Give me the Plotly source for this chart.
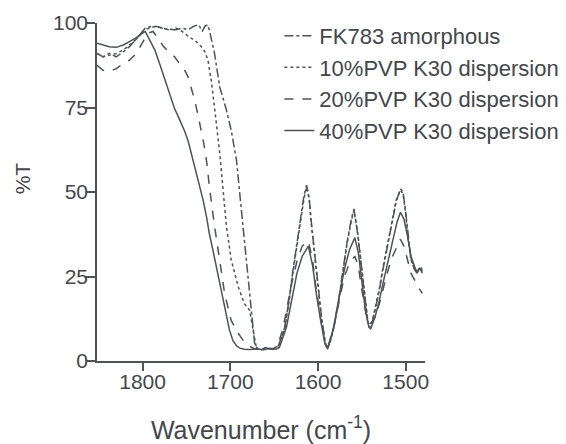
import plotly.graph_objects as go

# ---------------- data ----------------
tail_fk = [1665, 1660, 1655, 1650, 1645, 1638, 1633, 1629, 1624, 1619, 1616, 1613, 1610, 1608, 1604, 1600, 1596, 1592, 1590,
           1587, 1583, 1577, 1572, 1567, 1562, 1559, 1555, 1552, 1549, 1546, 1543, 1541,
           1538, 1535, 1530, 1526, 1521, 1516, 1511, 1506, 1503, 1500, 1497, 1494, 1490, 1487, 1484, 1481]

fk_wn = [1852, 1845, 1838, 1830, 1822, 1815, 1808, 1802, 1797, 1790, 1784, 1778, 1770, 1762, 1755, 1748, 1742,
         1736, 1732, 1729, 1726, 1724, 1721, 1718, 1715, 1712, 1708, 1704.5, 1699, 1693, 1689.4, 1685.6, 1682,
         1678, 1674, 1672, 1669] + tail_fk
fk_t = [91, 90, 91, 90, 91.5, 93, 95, 97, 98.5, 99, 99, 98.5, 98, 98, 98.5, 98, 99,
        99.5, 97.5, 99, 99.5, 98, 94.5, 91, 86, 81, 77.5, 74.3, 68.3, 59.5, 50, 40, 30,
        20, 10, 4.5, 3.8,
        3.2, 4, 3.5, 3.8, 4.5, 10, 18, 26, 35, 44, 49, 52, 48, 42, 32, 22, 13, 6, 4,
        5, 9, 17, 26, 35, 42, 45, 38, 31, 24, 16, 11, 10,
        11.5, 15, 21, 27, 34, 41, 47, 51, 50, 44, 36, 30, 27, 26, 28, 27]

p10_wn = [1852, 1845, 1838, 1830, 1822, 1815, 1808, 1803, 1798, 1792, 1785, 1778, 1770, 1762, 1755, 1750, 1744.5,
          1738, 1733, 1729, 1725.5, 1721.7, 1718, 1715, 1712, 1708, 1704.5, 1699, 1695, 1691, 1684, 1678, 1674,
          1670] + tail_fk
p10_t = [91, 90, 90.5, 91, 92, 93.5, 95, 96.5, 98, 98.5, 99, 98.5, 98, 98.5, 97.5, 96.5, 95.4,
         94.3, 93, 91.5, 89, 83, 75, 68, 61.4, 50, 40, 30, 26, 22, 17, 15, 9.2,
         3.5,
         3.5, 3.8, 3.6, 4, 4.3, 9.5, 17.5, 25.5, 34.5, 43, 48, 51.5, 48, 41.5, 31.5, 21.5, 12.5, 5.5, 3.8,
         4.8, 8.5, 16.5, 25.5, 34.5, 41.5, 44.5, 38.5, 31.5, 24.5, 16.5, 11.5, 10.5,
         12, 15.5, 21.5, 27.5, 34.5, 41.5, 47.5, 50.5, 49.5, 43.5, 35.5, 30, 27.5, 26.5, 27.5, 26.5]

p20_wn = [1852, 1845, 1838, 1830, 1822, 1815, 1807, 1800, 1794, 1788, 1782.5, 1776, 1770, 1763.5, 1758, 1752, 1748,
          1744.5, 1740.7, 1737, 1733, 1730, 1727, 1723.6, 1718, 1712, 1706.5, 1699, 1691, 1685, 1680, 1672, 1665,
          1658, 1652, 1646, 1640, 1635, 1630, 1624, 1618, 1611, 1606, 1602, 1597, 1592, 1589,
          1582, 1576, 1570, 1564, 1558, 1554, 1550, 1545, 1540,
          1535, 1530, 1525, 1520, 1515, 1510, 1506, 1502, 1498, 1494, 1490, 1486, 1481]
p20_t = [87.5, 86, 85.6, 86.5, 88, 89, 91, 94, 97, 97.5, 95.4, 93, 91.5, 90, 88, 86, 84,
         81, 77.2, 73, 68.3, 64, 59, 51, 40, 30, 20, 12, 8.2, 6, 4.7, 3.5, 3.6,
         3.8, 3.4, 4.5, 9.5, 16, 23, 29.5, 34, 35.5, 29.5, 21, 12.5, 5.5, 4,
         10, 18, 25, 29, 31, 28, 21, 14, 11,
         13, 17, 22, 27, 31, 34, 36, 34, 30, 26, 24, 22, 20]

p40_wn = [1852, 1845, 1838, 1830, 1822, 1815, 1808, 1800, 1797, 1792, 1786, 1780, 1775, 1769, 1764, 1758, 1752,
          1748, 1744.5, 1741, 1737, 1734, 1731, 1727, 1724, 1720, 1716, 1712, 1708, 1704, 1701, 1697, 1693,
          1689, 1684, 1678, 1670, 1662, 1655, 1648,
          1644, 1636, 1630, 1624, 1618, 1611, 1606, 1602, 1597, 1592, 1589,
          1582, 1576, 1570, 1564, 1558, 1554, 1550, 1546, 1542, 1540,
          1535, 1530, 1525, 1520, 1515, 1510, 1506, 1502, 1498, 1494, 1490, 1487, 1484, 1481]
p40_t = [94, 93.5, 93, 92.8, 93.5, 94.5, 95.5, 97, 97.5, 95, 92, 87.5, 83.5, 79, 75, 71.5, 68,
         65, 61.4, 57.5, 53.5, 50.5, 47.6, 42.5, 37.8, 33, 28, 23, 18, 13, 9.2, 6, 4.5,
         3.8, 3.5, 3.4, 3.6, 3.3, 3.8, 3.5,
         4, 10, 18, 26, 31, 34, 28, 20, 12, 5, 3.5,
         10, 19, 27, 33, 36.5, 32, 24, 15, 10, 9.5,
         13, 18, 24, 30, 36, 41, 44, 42, 37, 31, 28, 26, 27.5, 26]

names = ["FK783 amorphous", "10%PVP K30 dispersion", "20%PVP K30 dispersion", "40%PVP K30 dispersion"]
xs = [fk_wn, p10_wn, p20_wn, p40_wn]
ys = [fk_t, p10_t, p20_t, p40_t]
dashes = ["dashdot", "dot", "dash", "solid"]

x_ticks = [1800, 1700, 1600, 1500]
y_ticks = [0, 25, 50, 75, 100]

# ---------------- figure ----------------
LINE = "#4f5256"
TEXT = "#43474c"
FONT = "Liberation Sans, Arial, sans-serif"

fig = go.Figure()
for i in range(4):
    fig.add_trace(go.Scatter(x=xs[i], y=ys[i], mode="lines", name=names[i],
                             legendgroup=str(i),
                             line=dict(color=LINE, width=1.5, dash=dashes[i])))

fig.add_annotation(text="%T", xref="paper", yref="paper", x=-0.228, y=0.541,
                   xanchor="center", yanchor="middle", textangle=-90, showarrow=False,
                   font=dict(size=21, color=TEXT))

fig.update_layout(
    width=566, height=444,
    margin=dict(l=97, r=141, t=23, b=83, autoexpand=False),
    paper_bgcolor="white", plot_bgcolor="white",
    font=dict(family=FONT, size=21, color=TEXT),
    showlegend=True,
    legend=dict(x=0.556, y=1.024, xanchor="left", yanchor="top",
                font=dict(size=22, color=TEXT), bgcolor="rgba(0,0,0,0)",
                tracegroupgap=0, itemwidth=30),
    xaxis=dict(range=[1852, 1478], tickvals=x_ticks, ticks="outside", ticklen=8,
               ticklabelstandoff=-7,
               tickcolor=LINE, tickwidth=1.5, showline=True, linecolor=LINE, linewidth=1.5,
               showgrid=False, zeroline=False,
               title=dict(text="Wavenumber (cm<sup>-1</sup>)", standoff=33)),
    yaxis=dict(range=[0, 100], tickvals=y_ticks, ticks="outside", ticklen=9,
               ticklabelstandoff=-6,
               tickcolor=LINE, tickwidth=1.5, showline=True, linecolor=LINE, linewidth=1.5,
               showgrid=False, zeroline=False),
)

fig.write_html("out.html")
